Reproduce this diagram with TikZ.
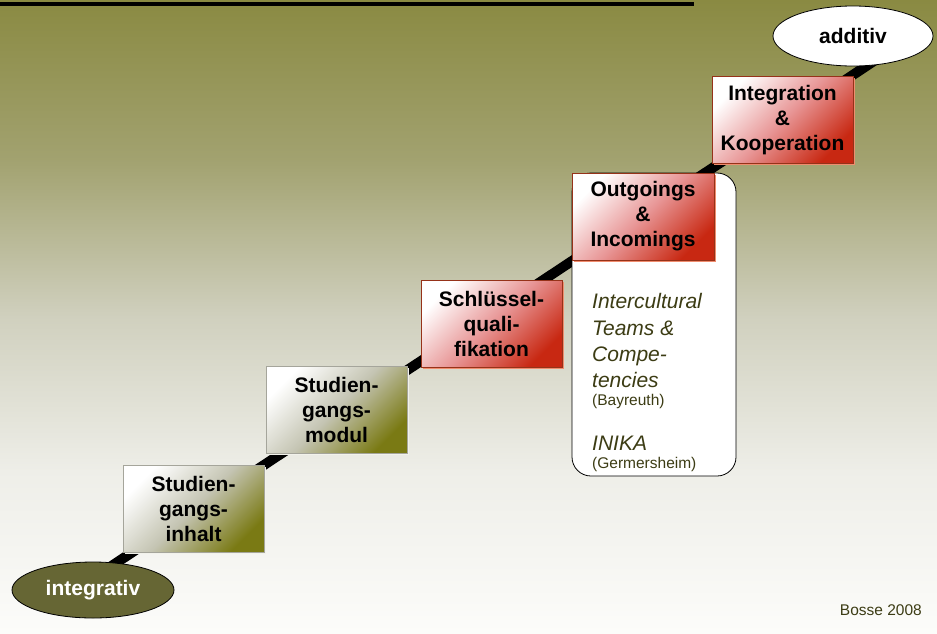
\documentclass[tikz,border=0pt]{standalone}
\usepackage{fontspec}
\setmainfont{Liberation Sans}
\usetikzlibrary{shapes.geometric,shadows}
\definecolor{bgA}{RGB}{138,138,66}
\definecolor{bgB}{RGB}{162,162,112}
\definecolor{bgC}{RGB}{208,208,190}
\definecolor{bgD}{RGB}{238,238,232}
\definecolor{bgE}{RGB}{252,252,250}
\definecolor{oliveD}{RGB}{122,122,20}
\definecolor{oliveM}{RGB}{196,196,178}
\definecolor{oliveB}{RGB}{165,165,155}
\definecolor{oliveS}{RGB}{242,242,235}
\definecolor{redD}{RGB}{200,40,18}
\definecolor{redM}{RGB}{232,150,150}
\definecolor{redB}{RGB}{150,50,25}
\definecolor{salmon}{RGB}{240,140,110}
\definecolor{ellD}{RGB}{102,102,52}
\definecolor{txtO}{RGB}{60,60,20}
\begin{document}
\begin{tikzpicture}[x=1pt,y=-1pt,
  boxtxt/.style={font=\fontsize{21}{25}\selectfont\bfseries, align=center, inner sep=0pt,
    minimum width=141pt, minimum height=87pt},
  olivebox/.style={boxtxt, draw=oliveB, line width=0.8pt, top color=white, bottom color=oliveD,
    middle color=oliveM, shading angle=45,
    drop shadow={shadow xshift=1.5pt, shadow yshift=-1.5pt, fill=oliveS, opacity=1}},
  redbox/.style={boxtxt, draw=redB, line width=0.8pt, top color=white, bottom color=redD,
    middle color=redM, shading angle=45,
    drop shadow={shadow xshift=1.5pt, shadow yshift=-1.5pt, fill=salmon, opacity=1}},
  ell/.style={ellipse, draw=black, line width=0.8pt, inner sep=0pt,
    font=\fontsize{21}{25}\selectfont\bfseries},
  ittxt/.style={anchor=base west, inner sep=0pt, text=txtO, font=\fontsize{21}{26}\selectfont\itshape},
  smtxt/.style={anchor=base west, inner sep=0pt, text=txtO, font=\fontsize{15.5}{18}\selectfont}
]
\useasboundingbox (0,0) rectangle (937,633);
% background
\shade[top color=bgA, bottom color=bgB] (0,0) rectangle (937,161);
\shade[top color=bgB, bottom color=bgC] (0,160) rectangle (937,317);
\shade[top color=bgC, bottom color=bgD] (0,316) rectangle (937,471);
\shade[top color=bgD, bottom color=bgE] (0,470) rectangle (937,633);
% top rule
\coordinate (r1) at (0,3.5);
\coordinate (r2) at (694,3.5);
\draw[line width=4pt] (r1) -- (r2);
% diagonal
\coordinate (ls) at (110,567);
\coordinate (le) at (880,57);
\draw[line width=10pt] (ls) -- (le);
% panel
\node[draw=black, line width=0.8pt, fill=white, rounded corners=19pt,
  minimum width=164pt, minimum height=303pt, inner sep=0pt] (panel) at (654,324.5) {};
% boxes
\node[olivebox] (b1) at (193.5,508.5) {Studien-\\gangs-\\inhalt};
\node[olivebox] (b2) at (336.5,409.5) {Studien-\\gangs-\\modul};
\node[redbox] (b3) at (491.5,324) {Schlüssel-\\quali-\\fikation};
\node[redbox, minimum width=142pt] (b4) at (643,216.5) {Outgoings\\\&\\Incomings};
\node[redbox] (b5) at (782.5,120) {Integration\\\&\\Kooperation};
% ellipses
\node[ell, fill=ellD, text=white, minimum width=162pt, minimum height=56pt] (integ) at (93,590) {integrativ};
\node[ell, fill=white, minimum width=160pt, minimum height=60pt] (add) at (853,36) {additiv};
% panel text
\node[ittxt] (t1) at (592,308) {Intercultural};
\node[ittxt] (t2) at (592,335) {Teams \&};
\node[ittxt] (t3) at (592,361) {Compe-};
\node[ittxt] (t4) at (592,387) {tencies};
\node[smtxt] (t5) at (592,405) {(Bayreuth)};
\node[ittxt] (t6) at (592,450) {INIKA};
\node[smtxt] (t7) at (592,468) {(Germersheim)};
% credit
\node[anchor=base east, inner sep=0pt, text=txtO, font=\fontsize{15.5}{18}\selectfont] (credit) at (922,615) {Bosse 2008};
\end{tikzpicture}
\end{document}
